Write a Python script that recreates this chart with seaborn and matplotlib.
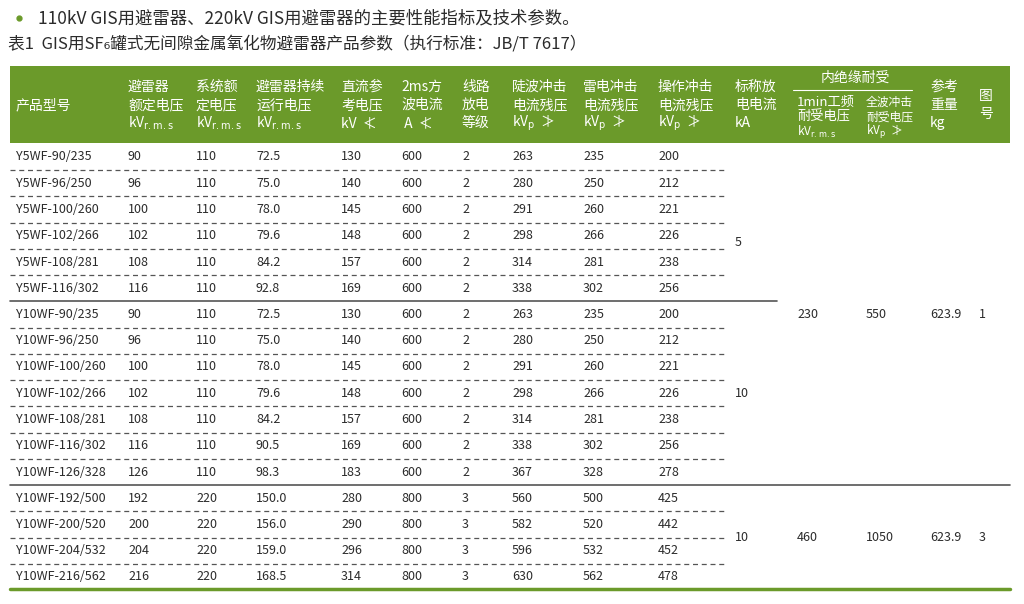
import matplotlib
matplotlib.use("Agg")
import matplotlib.pyplot as plt
import seaborn as sns

sns.set_theme(style="white")
plt.rcParams["font.family"] = ["Noto Sans CJK SC", "DejaVu Sans"]

GREEN = "#6b9a2a"
TEXT = "#2b2b2b"

intro = "110kV GIS用避雷器、220kV GIS用避雷器的主要性能指标及技术参数。"
caption = "表1  GIS用SF₆罐式无间隙金属氧化物避雷器产品参数（执行标准：JB/T 7617）"

headers = [
    ["产品型号"],
    ["避雷器", "额定电压", "kV$_{\\rm r.m.s}$"],
    ["系统额", "定电压", "kV$_{\\rm r.m.s}$"],
    ["避雷器持续", "运行电压", "kV$_{\\rm r.m.s}$"],
    ["直流参", "考电压", "kV  ≮"],
    ["2ms方", "波电流", " A  ≮"],
    ["线路", "放电", "等级"],
    ["陡波冲击", "电流残压", "kV$_{\\rm p}$  ≯"],
    ["雷电冲击", "电流残压", "kV$_{\\rm p}$  ≯"],
    ["操作冲击", "电流残压", "kV$_{\\rm p}$  ≯"],
    ["标称放", "电电流", "kA"],
]
models = ["Y5WF-90/235", "Y5WF-96/250", "Y5WF-100/260", "Y5WF-102/266", "Y5WF-108/281",
          "Y5WF-116/302", "Y10WF-90/235", "Y10WF-96/250", "Y10WF-100/260", "Y10WF-102/266",
          "Y10WF-108/281", "Y10WF-116/302", "Y10WF-126/328", "Y10WF-192/500",
          "Y10WF-200/520", "Y10WF-204/532", "Y10WF-216/562"]
rated = ["90", "96", "100", "102", "108", "116", "90", "96", "100", "102", "108", "116", "126",
         "192", "200", "204", "216"]
system = ["110"] * 13 + ["220"] * 4
continuous = ["72.5", "75.0", "78.0", "79.6", "84.2", "92.8", "72.5", "75.0", "78.0", "79.6",
              "84.2", "90.5", "98.3", "150.0", "156.0", "159.0", "168.5"]
dc_ref = ["130", "140", "145", "148", "157", "169", "130", "140", "145", "148", "157", "169",
          "183", "280", "290", "296", "314"]
square_wave = ["600"] * 13 + ["800"] * 4
line_class = ["2"] * 13 + ["3"] * 4
steep = ["263", "280", "291", "298", "314", "338", "263", "280", "291", "298", "314", "338",
         "367", "560", "582", "596", "630"]
lightning = ["235", "250", "260", "266", "281", "302", "235", "250", "260", "266", "281", "302",
             "328", "500", "520", "532", "562"]
switching = ["200", "212", "221", "226", "238", "256", "200", "212", "221", "226", "238", "256",
             "278", "425", "442", "452", "478"]
nominal_groups = [(0, 5, "5"), (6, 12, "10"), (13, 16, "10")]
merged_right = [(6, ["230", "550", "623.9", "1"]), (14.5, ["460", "1050", "623.9", "3"])]

cols = [models, rated, system, continuous, dc_ref, square_wave, line_class, steep, lightning, switching]
col_x = [16, 128, 196, 256, 341, 401, 462, 512, 583, 658, 735]
right_x = [797, 866, 930, 979]

fig = plt.figure(figsize=(10.24, 6.04), dpi=100)
ax = fig.add_axes([0, 0, 1, 1])
ax.set_xlim(0, 1024)
ax.set_ylim(604, 0)
ax.axis("off")

ax.plot([19], [18], "o", color=GREEN, ms=3.5)
ax.text(38, 18, intro, fontsize=12.5, color=TEXT, va="center")
ax.text(8, 44, caption, fontsize=12, color=TEXT, va="center")

# header band
ax.add_patch(plt.Rectangle((10, 66), 1000, 77, color=GREEN, lw=0))
for x, lines in zip(col_x, headers):
    if len(lines) == 1:
        ax.text(x, 105, lines[0], fontsize=10, color="white", va="center")
    else:
        for k, s in enumerate(lines):
            ax.text(x, 87 + 18 * k, s, fontsize=10, color="white", va="center")
ax.text(855, 78, "内绝缘耐受", fontsize=10, color="white", va="center", ha="center")
ax.plot([793, 912], [90, 90], color="white", lw=0.8)
for k, s in enumerate(["1min工频", "耐受电压", "kV$_{\\rm r.m.s}$"]):
    ax.text(797, 102 + 15 * k, s, fontsize=9.5 if k < 2 else 8.5, color="white", va="center")
for k, s in enumerate(["全波冲击", "耐受电压", "kV$_{\\rm p}$  ≯"]):
    ax.text(866, 102 + 15 * k, s, fontsize=8.5, color="white", va="center")
for k, s in enumerate(["参考", "重量", "kg"]):
    ax.text(930, 87 + 18 * k, s, fontsize=10, color="white", va="center")
for k, s in enumerate(["图", "号"]):
    ax.text(979, 96 + 18 * k, s, fontsize=10, color="white", va="center")

y0, step = 157, 26.25
for i in range(len(models)):
    y = y0 + i * step
    for x, col in zip(col_x, cols):
        ax.text(x, y, col[i], fontsize=9, color=TEXT, va="center")
    if i < len(models) - 1:
        yl = y + step / 2
        if i == 5:
            ax.plot([10, 777], [yl, yl], color="#555555", lw=1.2)
        elif i == 12:
            ax.plot([10, 1010], [yl, yl], color="#555555", lw=1.2)
        else:
            ax.plot([10, 725], [yl, yl], color="#555555", lw=0.9, ls=(0, (4, 3)))

for a, b, s in nominal_groups:
    yc = y0 + (a + b) / 2 * step
    if a == 0:
        yc += 20
    ax.text(col_x[-1], yc, s, fontsize=9, color=TEXT, va="center")
for r, vals in merged_right:
    for x, s in zip(right_x, vals):
        ax.text(x, y0 + r * step, s, fontsize=9, color=TEXT, va="center")

ax.plot([10, 1010], [589, 589], color=GREEN, lw=2.5)

fig.savefig("out.png", dpi=100)
